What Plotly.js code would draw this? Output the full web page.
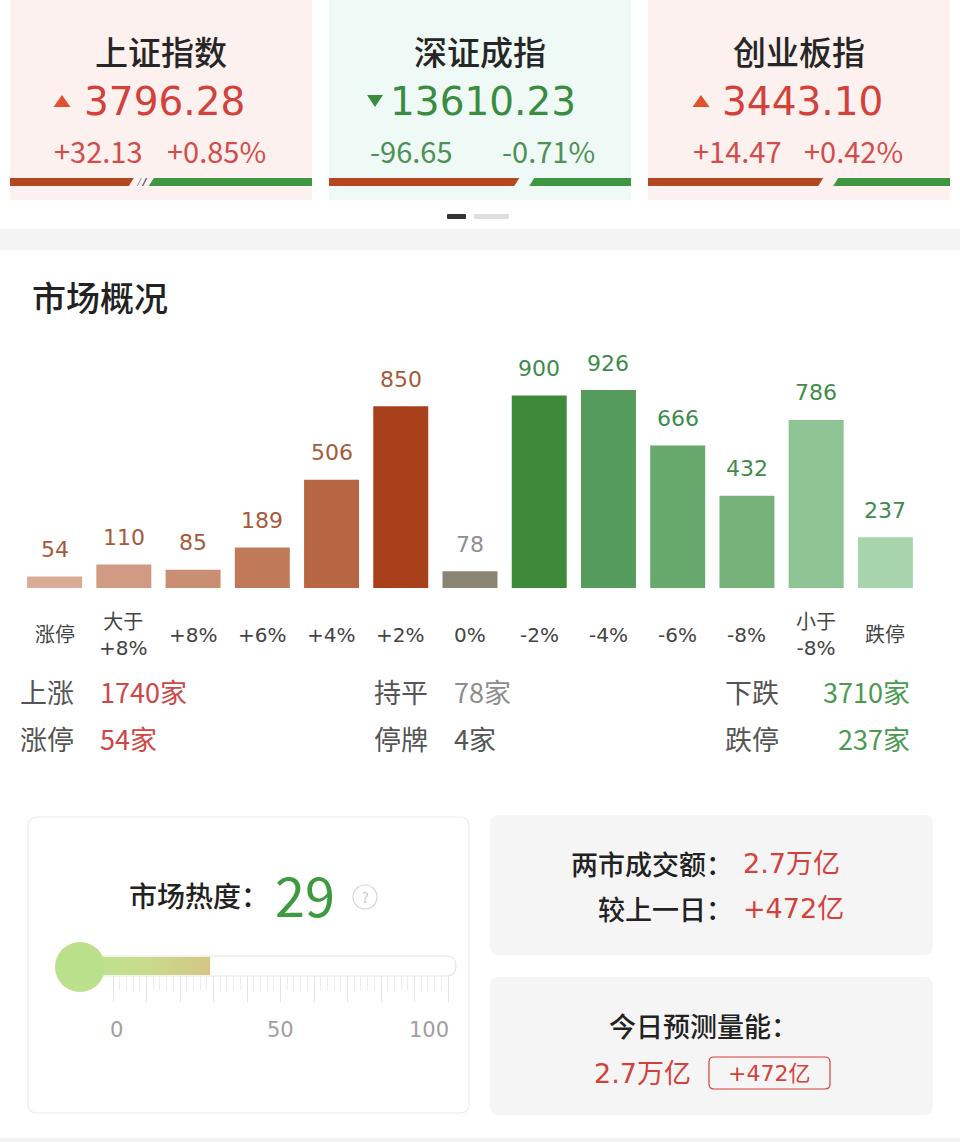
<!DOCTYPE html>
<html><head><meta charset="utf-8">
<script src="https://cdn.plot.ly/plotly-3.0.1.min.js"></script>
<style>html,body{margin:0;padding:0;background:#fff;}#chart{width:960px;height:1142px;}</style>
</head><body><div id="chart"></div>
<script>
// ---------------- data ----------------
const categories = ['涨停','大于+8%','+8%','+6%','+4%','+2%','0%','-2%','-4%','-6%','-8%','小于-8%','跌停'];
const categoryLabels = ['涨停','大于<br>+8%','+8%','+6%','+4%','+2%','0%','-2%','-4%','-6%','-8%','小于<br>-8%','跌停'];
const counts = [54,110,85,189,506,850,78,900,926,666,432,786,237];
const barColors = ['#d9ab95','#d19a82','#ca8f72','#c07a58','#b76642','#a8401c','#8c8473','#3d8a3b','#559c5c','#67a96c','#77b27a','#8ec494','#a7d4ac'];
const labelColors = ['#a65a3a','#a65a3a','#a65a3a','#a65a3a','#a65a3a','#a65a3a','#8f8f8f','#3f8b4b','#3f8b4b','#3f8b4b','#3f8b4b','#3f8b4b','#3f8b4b'];

const indexNames = ['上证指数','深证成指','创业板指'];
const indexValues = ['3796.28','13610.23','3443.10'];
const indexChanges = ['+32.13','-96.65','+14.47'];
const indexPcts = ['+0.85%','-0.71%','+0.42%'];
const indexUp = [true,false,true];
const indexUpRatio = [0.41,0.63,0.58];

const statLabels = ['上涨','涨停','持平','停牌','下跌','跌停'];
const statValues = ['1740家','54家','78家','4家','3710家','237家'];

const heatValue = 29;
const heatTickLabels = [0,50,100];
const turnoverLabels = ['两市成交额：','较上一日：'];
const turnoverValues = ['2.7万亿','+472亿'];
const forecastLabel = '今日预测量能：';
const forecastValue = '2.7万亿';
const forecastChange = '+472亿';

// ---------------- helpers ----------------
const W=960,H=1142;
const X=p=>p/W, Y=p=>1-p/H;
const FONT='Noto Sans CJK SC, Noto Sans, sans-serif';
const LATIN='DejaVu Sans, Noto Sans CJK SC, sans-serif';
function rrect(x0,y0,x1,y1,r){
  const a=X(x0),b=X(x1),c=Y(y0),d=Y(y1),rx=r/W,ry=r/H;
  return `M${a+rx},${c} L${b-rx},${c} Q${b},${c} ${b},${c-ry} L${b},${d+ry} Q${b},${d} ${b-rx},${d} L${a+rx},${d} Q${a},${d} ${a},${d+ry} L${a},${c-ry} Q${a},${c} ${a+rx},${c} Z`;
}
function poly(pts){return 'M'+pts.map(p=>X(p[0])+','+Y(p[1])).join(' L')+' Z';}
const shapes=[], ann=[];
function rect(x0,y0,x1,y1,fill,r,line,layer){
  shapes.push({type:'path',xref:'paper',yref:'paper',path:rrect(x0,y0,x1,y1,r||0),fillcolor:fill,
    line:{color:line||'rgba(0,0,0,0)',width:line?1.2:0},layer:layer||'below'});
}
function txt(x,y,t,size,color,anchor,family,weight){
  ann.push({xref:'paper',yref:'paper',x:X(x),y:Y(y),text:t,showarrow:false,
    xanchor:anchor||'center',yanchor:'middle',font:{family:family||FONT,size:size,color:color,weight:weight||400}});
}

// ---------------- top index cards ----------------
const cardX=[10,329,648], cardW=302, cardBg=['#fdf1ef','#effaf7','#fdf1ef'];
const triX=[62,375,701], chgX=[98,411,737], pctX=[216,548,853], gaps=[15,10,10];
for(let i=0;i<3;i++){
  const x0=cardX[i], x1=x0+cardW, cx=x0+cardW/2;
  rect(x0,0,x1,200,cardBg[i],0);
  const up=indexUp[i];
  const main=up?'#d2413b':'#3a8c3f', sub=up?'#d04d4b':'#4d9155';
  txt(cx,51,indexNames[i],33,'#262626','center',FONT,500);
  txt(cx+3,101,indexValues[i],39,main,'center',LATIN);
  const tx=triX[i];
  shapes.push({type:'path',xref:'paper',yref:'paper',layer:'above',line:{width:0},fillcolor:up?'#e0522e':'#3a8c3f',
    path: up?poly([[tx-8.5,107],[tx+8.5,107],[tx,95]]):poly([[tx-8,95],[tx+8,95],[tx,107]])});
  txt(chgX[i],150,indexChanges[i],29,sub);
  txt(pctX[i],150,indexPcts[i],29,sub);
  const rEnd=x0+indexUpRatio[i]*cardW, gStart=rEnd+gaps[i];
  shapes.push({type:'path',xref:'paper',yref:'paper',layer:'above',line:{width:0},fillcolor:'#b4471f',
    path:poly([[x0,178],[rEnd,178],[rEnd-5,186],[x0,186]])});
  shapes.push({type:'path',xref:'paper',yref:'paper',layer:'above',line:{width:0},fillcolor:'#3f9640',
    path:poly([[gStart+5,178],[x1,178],[x1,186],[gStart,186]])});
  if(i===0){
    shapes.push({type:'path',xref:'paper',yref:'paper',layer:'above',line:{width:0},fillcolor:'#8a94a8',
      path:poly([[rEnd+3,186],[rEnd+7,178],[rEnd+8,178],[rEnd+4,186]])});
    shapes.push({type:'path',xref:'paper',yref:'paper',layer:'above',line:{width:0},fillcolor:'#5a6478',
      path:poly([[rEnd+8,186],[rEnd+12,178],[rEnd+13.5,178],[rEnd+9.5,186]])});
  }
}
// page indicator
rect(447,214,466,219,'#333333',1);
rect(474,214,509,219,'#dedede',1);
// separator bands
rect(0,229,960,250,'#f3f3f3',0);
rect(0,1138,960,1142,'#f3f3f3',0);

// section title
txt(30,296,'市场概况',34,'#222222','left',FONT,500);

// ---------------- bar chart annotations ----------------
for(let i=0;i<categories.length;i++){
  ann.push({xref:'x',yref:'y',x:categories[i],y:counts[i],text:String(counts[i]),showarrow:false,
    xanchor:'center',yanchor:'middle',yshift:27,font:{family:LATIN,size:22,color:labelColors[i]}});
  ann.push({xref:'x',yref:'paper',x:categories[i],y:Y(635),text:categoryLabels[i],showarrow:false,
    xanchor:'center',yanchor:'middle',font:{family:LATIN,size:20,color:'#444444'}});
}

// ---------------- stats rows ----------------
const statLX=[18,18,372,372,723,723], statY=[691,738,691,738,691,738];
const statVX=[98,98,452,452,912,912], statVA=['left','left','left','left','right','right'];
const statVC=['#cf4646','#cf4646','#8c8c8c','#555555','#4a9a52','#4a9a52'];
for(let i=0;i<statLabels.length;i++){
  txt(statLX[i],statY[i],statLabels[i],27,'#555555','left');
  txt(statVX[i],statY[i],statValues[i],27,statVC[i],statVA[i]);
}

// ---------------- heat card ----------------
rect(28,817,469,1113,'#ffffff',9,'#ececec');
txt(127,895,'市场热度：',28,'#222222','left',FONT,500);
txt(273,893,String(heatValue),54,'#3d9a3f','left');
shapes.push({type:'circle',xref:'paper',yref:'paper',x0:X(353),x1:X(377),y0:Y(885),y1:Y(909),line:{color:'#d6d6d6',width:1.2},fillcolor:'rgba(0,0,0,0)'});
txt(365,897,'?',14,'#c8c8c8');
// track
rect(80,956,456,976,'#ffffff',10,'#e6e6e6');
shapes.push({type:'circle',xref:'paper',yref:'paper',x0:X(55),x1:X(105),y0:Y(942),y1:Y(992),line:{width:0},fillcolor:'#bbe08b',layer:'above'});
const tickAnchor=['center','center','right'], tickShift=[3,0,3];
heatTickLabels.forEach((v,k)=>{
  ann.push({xref:'x2',yref:'paper',x:v,y:Y(1030),text:String(v),showarrow:false,xanchor:tickAnchor[k],xshift:tickShift[k],yanchor:'middle',
    font:{family:LATIN,size:21,color:'#a0a0a0'}});
});

// ---------------- turnover cards ----------------
rect(490,815,933,955,'#f5f5f5',9);
rect(490,977,933,1115,'#f5f5f5',9);
txt(735,863,turnoverLabels[0],27,'#222222','right',FONT,500);
txt(741,863,turnoverValues[0],27,'#d2413b','left',LATIN);
txt(735,908,turnoverLabels[1],27,'#222222','right',FONT,500);
txt(741,908,turnoverValues[1],27,'#d2413b','left',LATIN);
txt(607,1025,forecastLabel,27,'#222222','left',FONT,500);
txt(592,1073,forecastValue,27,'#d2413b','left',LATIN);
rect(709,1057,830,1089,'rgba(0,0,0,0)',5,'#d2413b','above');
txt(769,1073,forecastChange,22,'#d2413b','center',LATIN);

// ---------------- traces ----------------
const majorTicks=[], minorTicks=[];
for(let v=0;v<=100;v+=2){ if(v%10===0) majorTicks.push(v); else minorTicks.push(v); }
const bulbBase=-9.5;
const traces=[
  {type:'bar',x:categories,y:counts,marker:{color:barColors,line:{width:0}},hoverinfo:'skip',xaxis:'x',yaxis:'y'},
  {type:'scatter',mode:'none',x:[bulbBase,heatValue,heatValue,bulbBase],y:[-0.5,-0.5,0.5,0.5],fill:'toself',
   fillcolor:'#cad98a',fillgradient:{type:'horizontal',colorscale:[[0,'#bde38c'],[0.5,'#c8dc8a'],[1,'#d5c585']]},
   hoverinfo:'skip',xaxis:'x2',yaxis:'y2'}
];
const layout={
  width:W,height:H,margin:{l:0,r:0,t:0,b:0},paper_bgcolor:'#ffffff',plot_bgcolor:'rgba(0,0,0,0)',
  showlegend:false,bargap:0.206,font:{family:FONT},
  xaxis:{domain:[X(20),X(920)],type:'category',categoryarray:categories,range:[-0.5,12.5],
    showticklabels:false,showgrid:false,zeroline:false,showline:false,ticks:'',fixedrange:true},
  yaxis:{domain:[Y(588),Y(374.2)],range:[0,1000],showticklabels:false,showgrid:false,zeroline:false,showline:false,ticks:'',fixedrange:true},
  xaxis2:{domain:[X(113-9.6*3.35),X(113+102*3.35)],range:[-9.6,102],anchor:'y2',showgrid:false,zeroline:false,showline:false,
    tickmode:'array',tickvals:majorTicks,ticks:'outside',ticklen:26,tickwidth:1,tickcolor:'#e4e4e4',showticklabels:false,
    minor:{tickmode:'array',tickvals:minorTicks,ticks:'outside',ticklen:14,tickwidth:1,tickcolor:'#ececec'},fixedrange:true},
  yaxis2:{domain:[Y(975),Y(957)],range:[-0.5,0.5],anchor:'x2',showticklabels:false,showgrid:false,zeroline:false,showline:false,ticks:'',fixedrange:true},
  shapes:shapes,annotations:ann
};
Plotly.newPlot('chart',traces,layout,{displayModeBar:false,staticPlot:true});
</script></body></html>
